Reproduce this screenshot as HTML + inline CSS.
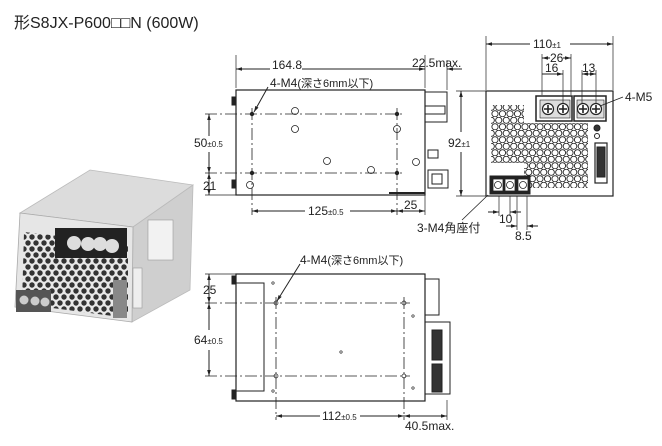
<!DOCTYPE html>
<html><head><meta charset="utf-8"><style>
html,body{margin:0;padding:0;background:#fff;}
svg{display:block;}
text{font-family:"Liberation Sans","Noto Sans CJK JP",sans-serif;fill:#222;}
</style></head><body>
<svg width="662" height="446" viewBox="0 0 662 446" xmlns="http://www.w3.org/2000/svg">
<defs>
<marker id="a" viewBox="0 0 10 10" refX="10" refY="5" markerWidth="6" markerHeight="6" orient="auto-start-reverse"><path d="M0,2 L10,5 L0,8z" fill="#222"/></marker>
<pattern id="hex" width="7.5" height="13" patternUnits="userSpaceOnUse">
<circle cx="3.75" cy="3.25" r="3.1" fill="none" stroke="#222" stroke-width="0.9"/>
<circle cx="0" cy="9.75" r="3.1" fill="none" stroke="#222" stroke-width="0.9"/>
<circle cx="7.5" cy="9.75" r="3.1" fill="none" stroke="#222" stroke-width="0.9"/>
</pattern>
<pattern id="hexp" width="8" height="12" patternUnits="userSpaceOnUse">
<rect width="8" height="12" fill="#e8e8e8"/>
<circle cx="4" cy="3" r="2.7" fill="#333"/>
<circle cx="0" cy="9" r="2.7" fill="#333"/>
<circle cx="8" cy="9" r="2.7" fill="#333"/>
</pattern>
<g id="scr"><circle r="5.5" fill="#fff" stroke="#222" stroke-width="1.2"/><path d="M-4,0H4M0,-4V4" stroke="#222" stroke-width="1.6"/></g>
</defs>

<text x="14" y="28" font-size="16">形S8JX-P600□□N (600W)</text>

<!-- photo -->
<polygon points="20,213 90,170 193,185 133,227" fill="#dcdcdc" stroke="#bbb" stroke-width="0.8"/>
<polygon points="133,227 193,185 190,290 132,322" fill="#cfcfcf" stroke="#bbb" stroke-width="0.8"/>
<polygon points="20,213 133,227 132,322 15,307" fill="#e6e6e6" stroke="#aaa" stroke-width="0.8"/>
<polygon points="24,232 128,244 128,318 22,304" fill="url(#hexp)"/>
<rect x="55" y="228" width="72" height="30" fill="#222"/>
<circle cx="74" cy="243" r="7" fill="#ddd"/><circle cx="88" cy="244" r="7" fill="#ddd"/>
<circle cx="100" cy="244" r="7" fill="#ddd"/><circle cx="112" cy="246" r="7" fill="#ddd"/>
<rect x="16" y="290" width="35" height="22" fill="#555"/>
<circle cx="24" cy="300" r="4.5" fill="#ccc"/><circle cx="35" cy="301" r="4.5" fill="#ccc"/><circle cx="45" cy="302" r="4.5" fill="#ccc"/>
<rect x="113" y="280" width="14" height="38" fill="#888"/>
<rect x="148" y="220" width="25" height="40" fill="#f2f2f2" stroke="#999" stroke-width="0.6"/>
<rect x="133" y="268" width="9" height="40" fill="#eee" stroke="#999" stroke-width="0.6"/>

<g stroke="#222" fill="none" stroke-width="1">
<!-- TOP SIDE VIEW -->
<rect x="236" y="90" width="189" height="105" stroke-width="1.2"/>
<rect x="425" y="92" width="22" height="30"/>
<rect x="425" y="106" width="20" height="8"/>
<rect x="428" y="150" width="10" height="8"/>
<rect x="428" y="170" width="20" height="18"/>
<rect x="432" y="174" width="10" height="10"/>
<line x1="389" y1="193" x2="425" y2="193" stroke-width="2"/>
<rect x="232" y="97" width="4" height="8" fill="#222"/>
<rect x="232" y="180" width="4" height="8" fill="#222"/>
<line x1="236" y1="55" x2="236" y2="88" stroke-width="0.7"/>
<line x1="425" y1="55" x2="425" y2="88" stroke-width="0.7"/>
<line x1="447" y1="60" x2="447" y2="90" stroke-width="0.7"/>
<line x1="236" y1="69" x2="270" y2="69" marker-start="url(#a)"/>
<line x1="300" y1="69" x2="425" y2="69" marker-end="url(#a)"/>
<line x1="462" y1="69" x2="447" y2="69" marker-end="url(#a)"/>
<g stroke-dasharray="12,3,2,3" stroke-width="0.8">
<line x1="205" y1="114" x2="402" y2="114"/>
<line x1="205" y1="173" x2="402" y2="173"/>
<line x1="252" y1="108" x2="252" y2="215"/>
<line x1="397" y1="108" x2="397" y2="215"/>
</g>
<line x1="205" y1="195" x2="236" y2="195" stroke-width="0.7"/>
<line x1="425" y1="195" x2="425" y2="215" stroke-width="0.7"/>
<line x1="209" y1="114" x2="209" y2="136" marker-start="url(#a)"/>
<line x1="209" y1="152" x2="209" y2="173" marker-end="url(#a)"/>
<line x1="209" y1="173" x2="209" y2="195" marker-start="url(#a)" marker-end="url(#a)"/>
<line x1="252" y1="211" x2="305" y2="211" marker-start="url(#a)"/>
<line x1="350" y1="211" x2="397" y2="211" marker-end="url(#a)"/>
<line x1="397" y1="211" x2="425" y2="211" marker-start="url(#a)" marker-end="url(#a)"/>
<line x1="268" y1="87" x2="254" y2="112" marker-end="url(#a)"/>
<g stroke-width="0.8">
<circle cx="295" cy="111" r="3.5"/><circle cx="295" cy="129" r="3.5"/><circle cx="397" cy="129" r="3.5"/>
<circle cx="327" cy="161" r="3.5"/><circle cx="371" cy="170" r="3.5"/><circle cx="416" cy="162" r="3.5"/><circle cx="250" cy="185" r="3.5"/>
</g>

<!-- FRONT VIEW -->
<rect x="486" y="91" width="127" height="105" stroke-width="1.2"/>
<rect x="491" y="105" width="33" height="58" fill="url(#hex)" stroke="none"/>
<rect x="524" y="123" width="64" height="65" fill="url(#hex)" stroke="none"/>
<rect x="536" y="96" width="36" height="25" fill="#fff" stroke-width="1.5"/>
<rect x="574" y="96" width="32" height="25" fill="#fff" stroke-width="1.5"/>
<rect x="540" y="100" width="30" height="18" fill="#ddd" stroke-width="0.6"/>
<rect x="577" y="100" width="27" height="18" fill="#ddd" stroke-width="0.6"/>
<use href="#scr" x="548" y="109"/><use href="#scr" x="563" y="109"/><use href="#scr" x="583" y="109"/><use href="#scr" x="596" y="109"/>
<rect x="490" y="176" width="40" height="18" fill="#222"/>
<g fill="#fff" stroke-width="0.8"><rect x="493" y="179" width="10" height="12"/><rect x="505" y="179" width="10" height="12"/><rect x="518" y="179" width="10" height="12"/>
<circle cx="498" cy="185" r="3.5"/><circle cx="510" cy="185" r="3.5"/><circle cx="523" cy="185" r="3.5"/></g>
<rect x="595" y="143" width="12" height="40" stroke-width="1.2"/>
<rect x="597" y="147" width="8" height="30" fill="#333"/>
<circle cx="597" cy="128" r="3" fill="#333"/><circle cx="597" cy="136" r="2.5"/>
<line x1="486" y1="36" x2="486" y2="90" stroke-width="0.7"/>
<line x1="613" y1="36" x2="613" y2="90" stroke-width="0.7"/>
<line x1="486" y1="44" x2="530" y2="44" marker-start="url(#a)"/>
<line x1="570" y1="44" x2="613" y2="44" marker-end="url(#a)"/>
<line x1="542" y1="54" x2="542" y2="95" stroke-width="0.7"/>
<line x1="571" y1="54" x2="571" y2="95" stroke-width="0.7"/>
<line x1="563" y1="70" x2="563" y2="103" stroke-width="0.7"/>
<line x1="582" y1="70" x2="582" y2="103" stroke-width="0.7"/>
<line x1="596" y1="70" x2="596" y2="103" stroke-width="0.7"/>
<line x1="542" y1="58" x2="550" y2="58" marker-start="url(#a)"/>
<line x1="563" y1="58" x2="571" y2="58" marker-end="url(#a)"/>
<line x1="542" y1="74" x2="563" y2="74" marker-end="url(#a)"/>
<line x1="582" y1="74" x2="596" y2="74" marker-start="url(#a)" marker-end="url(#a)"/>
<line x1="456" y1="91" x2="486" y2="91" stroke-width="0.7"/>
<line x1="456" y1="196" x2="486" y2="196" stroke-width="0.7"/>
<line x1="461" y1="91" x2="461" y2="132" marker-start="url(#a)"/>
<line x1="461" y1="152" x2="461" y2="196" marker-end="url(#a)"/>
<line x1="499" y1="196" x2="499" y2="216" stroke-width="0.7"/>
<line x1="510" y1="196" x2="510" y2="216" stroke-width="0.7"/>
<line x1="517" y1="196" x2="517" y2="230" stroke-width="0.7"/>
<line x1="527" y1="196" x2="527" y2="230" stroke-width="0.7"/>
<line x1="488" y1="212" x2="499" y2="212" marker-end="url(#a)"/>
<line x1="521" y1="212" x2="510" y2="212" marker-end="url(#a)"/>
<line x1="506" y1="226" x2="517" y2="226" marker-end="url(#a)"/>
<line x1="538" y1="226" x2="527" y2="226" marker-end="url(#a)"/>
<line x1="623" y1="97" x2="600" y2="106" stroke-width="0.8"/>
<line x1="462" y1="220" x2="488" y2="195" stroke-width="0.8"/>

<!-- BOTTOM VIEW -->
<rect x="236" y="274" width="189" height="127" stroke-width="1.2"/>
<polyline points="236,283 264,283 264,391 236,391"/>
<rect x="232" y="276" width="4" height="8" fill="#222"/>
<rect x="232" y="390" width="4" height="9" fill="#222"/>
<rect x="425" y="279" width="14" height="36"/>
<rect x="425" y="322" width="25" height="72"/>
<rect x="432" y="330" width="10" height="30" fill="#333"/>
<rect x="432" y="364" width="10" height="28" fill="#333"/>
<line x1="205" y1="274" x2="236" y2="274" stroke-width="0.7"/>
<line x1="447" y1="400" x2="447" y2="420" stroke-width="0.7"/>
<g stroke-dasharray="12,3,2,3" stroke-width="0.8">
<line x1="205" y1="303" x2="410" y2="303"/>
<line x1="205" y1="376" x2="410" y2="376"/>
<line x1="276" y1="297" x2="276" y2="420"/>
<line x1="404" y1="297" x2="404" y2="420"/>
</g>
<line x1="209" y1="274" x2="209" y2="303" marker-start="url(#a)" marker-end="url(#a)"/>
<line x1="209" y1="303" x2="209" y2="330" marker-start="url(#a)"/>
<line x1="209" y1="350" x2="209" y2="376" marker-end="url(#a)"/>
<line x1="276" y1="416" x2="320" y2="416" marker-start="url(#a)"/>
<line x1="360" y1="416" x2="404" y2="416" marker-end="url(#a)"/>
<line x1="404" y1="416" x2="447" y2="416" marker-start="url(#a)" marker-end="url(#a)"/>
<line x1="300" y1="264" x2="277" y2="301" marker-end="url(#a)"/>
<g stroke-width="0.7"><circle cx="276" cy="303" r="2"/><circle cx="404" cy="303" r="2"/><circle cx="276" cy="376" r="2"/><circle cx="404" cy="376" r="2"/>
<circle cx="273" cy="283" r="1.2"/><circle cx="341" cy="352" r="1.2"/><circle cx="413" cy="316" r="1.2"/><circle cx="413" cy="388" r="1.2"/><circle cx="273" cy="391" r="1.2"/></g>
</g>
<g fill="#222"><circle cx="252" cy="114" r="2.2"/><circle cx="397" cy="114" r="2.2"/><circle cx="252" cy="173" r="2.2"/><circle cx="397" cy="173" r="2.2"/></g>

<g font-size="12">
<rect x="271" y="58" width="31" height="14" fill="#fff"/>
<text x="272" y="69">164.8</text>
<text x="412" y="67">22.5max.</text>
<text x="270" y="87">4-M4<tspan font-size="11">(深さ6mm以下)</tspan></text>
<text x="194" y="147">50<tspan font-size="8">±0.5</tspan></text>
<text x="203" y="190">21</text>
<text x="308" y="215">125<tspan font-size="8">±0.5</tspan></text>
<text x="404" y="209">25</text>
<text x="533" y="48">110<tspan font-size="8">±1</tspan></text>
<text x="550" y="62">26</text>
<text x="545" y="72">16</text>
<text x="582" y="72">13</text>
<text x="625" y="101">4-M5</text>
<text x="448" y="147">92<tspan font-size="8">±1</tspan></text>
<text x="499" y="223">10</text>
<text x="515" y="240">8.5</text>
<text x="417" y="232">3-M4角座付</text>
<text x="300" y="264">4-M4<tspan font-size="11">(深さ6mm以下)</tspan></text>
<text x="203" y="294">25</text>
<text x="194" y="344">64<tspan font-size="8">±0.5</tspan></text>
<text x="322" y="420">112<tspan font-size="8">±0.5</tspan></text>
<text x="405" y="430">40.5max.</text>
</g>
</svg>
</body></html>
